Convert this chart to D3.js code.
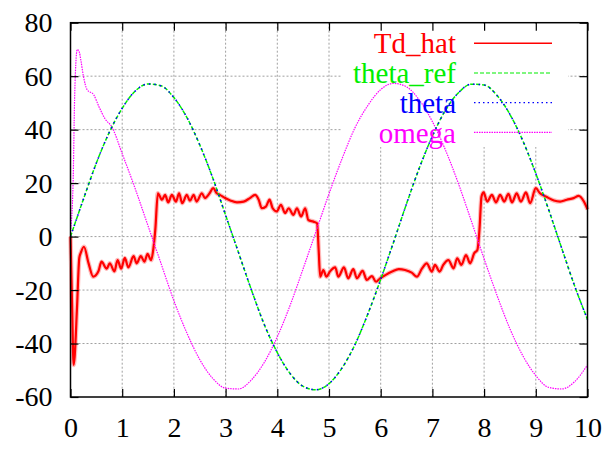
<!DOCTYPE html>
<html>
<head>
<meta charset="utf-8">
<script src="https://cdn.jsdelivr.net/npm/d3@7"></script>
<style>
  body { margin: 0; background: #fff; }
  text { font-family: "Liberation Serif", "Times New Roman", serif; }
</style>
</head>
<body>
<script>
// values
var xTicks = [0, 1, 2, 3, 4, 5, 6, 7, 8, 9, 10];
var yTicks = [-60, -40, -20, 0, 20, 40, 60, 80];

// theta_ref / theta sampled every 0.25 s
var thetaT = d3.range(0, 10.001, 0.25);
var thetaRef = [0, 14, 27.5, 39, 48, 54.4, 57.1, 56.4, 52, 44.6, 34.3, 22, 8, -6, -20, -33,
                -43.4, -51.3, -56, -57.3, -55, -49.2, -40.5, -29, -16, -2, 12.3, 25.8, 37.6,
                47.2, 53.7, 57, 56.7, 52.8, 45.7, 35.8, 23.6, 10, -4.3, -18.4, -31];
var theta = thetaRef.slice();

var omegaT = [0, 0.05, 0.08, 0.11, 0.13, 0.17, 0.2, 0.25, 0.32, 0.45, 0.55, 0.67, 0.8, 1.0,
              1.25, 1.5, 1.75, 2, 2.25, 2.5, 2.75, 3, 3.25, 3.5, 3.75, 4, 4.25, 4.5, 4.75, 5,
              5.25, 5.5, 5.75, 6, 6.25, 6.5, 6.75, 7, 7.25, 7.5, 7.75, 8, 8.25, 8.5, 8.75, 9,
              9.25, 9.5, 9.75, 10];
var omega = [2, 20, 52, 67, 70, 69, 66, 60, 55, 53, 48.6, 44, 41, 31,
             18, 4, -10, -24, -36, -46, -53, -56.7, -57, -53.6, -47, -37.5, -25.6, -12, 2, 16,
             29, 40.6, 49, 55, 57.3, 56, 51, 43, 32.5, 20, 6, -8.3, -22, -34.5, -44.6, -52,
             -56.4, -57, -54.3, -48];

var tdT = [0, 0.03, 0.06, 0.08, 0.125, 0.17, 0.2, 0.26, 0.35, 0.44, 0.54, 0.6, 0.7, 0.76, 0.85,
           0.91, 0.98, 1.05, 1.12, 1.22, 1.28, 1.36, 1.43, 1.49, 1.56, 1.6, 1.64, 1.69, 1.77,
           1.83, 1.89, 1.96, 2.04, 2.1, 2.16, 2.25, 2.31, 2.38, 2.44, 2.54, 2.6, 2.69, 2.76,
           2.83, 2.89, 2.99, 3.09, 3.22, 3.35, 3.47, 3.57, 3.64, 3.7, 3.78, 3.85, 3.91, 3.99,
           4.07, 4.15, 4.22, 4.31, 4.38, 4.46, 4.54, 4.6, 4.7, 4.77, 4.8, 4.83, 4.89, 4.95,
           5.02, 5.12, 5.18, 5.29, 5.37, 5.47, 5.54, 5.65, 5.73, 5.83, 5.91, 5.99, 6.09, 6.22,
           6.35, 6.47, 6.6, 6.7, 6.8, 6.89, 6.99, 7.05, 7.14, 7.21, 7.31, 7.41, 7.48, 7.56,
           7.65, 7.73, 7.81, 7.87, 7.91, 7.95, 7.99, 8.06, 8.15, 8.23, 8.31, 8.39, 8.47, 8.54,
           8.63, 8.71, 8.81, 8.89, 9.0, 9.08, 9.21, 9.35, 9.47, 9.6, 9.73, 9.83, 9.93, 10];
var tdHat = [0, -25, -48, -45, -27, -8, -6, -3.8, -10, -15, -13, -9.4, -12, -10, -13,
             -8.8, -12, -8, -11.5, -7.3, -10, -7.3, -9.4, -6.5, -8.8, -5, 2.5, 16.2, 13.8,
             15.6, 12.8, 15.6, 13.1, 16.2, 12.5, 15.6, 13.4, 15.6, 13.1, 16.2, 14.4, 16.2, 18.1,
             16.2, 15.6, 14.4, 13.5, 12.8, 13.1, 14.4, 15.6, 13.8, 10.6, 11.2, 13.8, 10.6, 9.4,
             11.9, 8.8, 10.6, 8.1, 10.6, 7.5, 10.6, 6.2, 5.6, 5, -5, -15, -12.5, -15,
             -13, -11.5, -15, -11.5, -15.6, -12.2, -15.6, -12.8, -16.2, -14.8, -16.9, -15.6, -14.4, -13.1,
             -12.2, -12.5, -13.5, -15, -11.9, -10, -13.1, -10.6, -13.1, -10.6, -8.8, -11.9, -8.1, -10.6,
             -6.9, -10, -6.2, -5, 2.5, 15, 16.5, 13.1, 15.6, 12.8, 15.6, 13.1, 16, 12.8,
             16.2, 13.1, 16.5, 12.5, 18.1, 16.2, 14.8, 13.5, 13.1, 13.8, 14.4, 15.2, 13.1, 10.2];

var legendNames = ["Td_hat", "theta_ref", "theta", "omega"];
var legendColors = ["#ff0000", "#00ee00", "#0000ff", "#ff00ff"];

var W = 605, H = 449;
var svg = d3.select("body").append("svg")
            .attr("width", W)
            .attr("height", H);

var x = d3.scaleLinear().domain([0, 10]).range([70.5, 587.5]);
var y = d3.scaleLinear().domain([-60, 80]).range([397, 22.7]);

// grid
var grid = svg.append("g")
              .attr("stroke", "#a0a0a0")
              .attr("stroke-dasharray", "2,2")
              .attr("stroke-width", 1);
grid.selectAll(".gx").data(xTicks.slice(1, -1)).enter().append("line")
    .attr("x1", function(d) { return x(d); })
    .attr("x2", function(d) { return x(d); })
    .attr("y1", y(80)).attr("y2", y(-60));
grid.selectAll(".gy").data(yTicks.slice(1, -1)).enter().append("line")
    .attr("x1", x(0)).attr("x2", x(10))
    .attr("y1", function(d) { return y(d); })
    .attr("y2", function(d) { return y(d); });

// key area blanks the grid (gnuplot style)
svg.append("rect")
   .attr("x", 342).attr("y", 24)
   .attr("width", 226).attr("height", 123)
   .attr("fill", "#fff");

function line(xs) {
  return d3.line()
           .x(function(d, i) { return x(xs[i]); })
           .y(function(d) { return y(d); });
}

// Td_hat - noisy, drawn thick with a soft halo
svg.append("path").datum(tdHat)
   .attr("d", line(tdT).curve(d3.curveMonotoneX))
   .attr("fill", "none")
   .attr("stroke", "rgba(255,60,60,0.35)")
   .attr("stroke-width", 4.5);
svg.append("path").datum(tdHat)
   .attr("d", line(tdT).curve(d3.curveMonotoneX))
   .attr("fill", "none")
   .attr("stroke", "#ff0000")
   .attr("stroke-width", 2.2);

svg.append("path").datum(omega)
   .attr("d", line(omegaT).curve(d3.curveMonotoneX))
   .attr("fill", "none")
   .attr("stroke", "#ff00ff")
   .attr("stroke-width", 1.2)
   .attr("stroke-dasharray", "1.5,1");

svg.append("path").datum(thetaRef)
   .attr("d", line(thetaT).curve(d3.curveMonotoneX))
   .attr("fill", "none")
   .attr("stroke", "#00ee00")
   .attr("stroke-width", 1.5)
   .attr("stroke-dasharray", "4,2");

svg.append("path").datum(theta)
   .attr("d", line(thetaT).curve(d3.curveMonotoneX))
   .attr("fill", "none")
   .attr("stroke", "#0000ff")
   .attr("stroke-width", 1.5)
   .attr("stroke-dasharray", "1.5,4");

// axes, ticks inward and mirrored
var fs = 28;
var axLeft = svg.append("g")
                .attr("transform", "translate(" + x(0) + ",0)")
                .call(d3.axisLeft(y).tickValues(yTicks).tickSize(-8).tickPadding(18).tickFormat(String));
var axBottom = svg.append("g")
                  .attr("transform", "translate(0," + y(-60) + ")")
                  .call(d3.axisBottom(x).tickValues(xTicks).tickSize(-8).tickPadding(20).tickFormat(String));
var axTop = svg.append("g")
               .attr("transform", "translate(0," + y(80) + ")")
               .call(d3.axisTop(x).tickValues(xTicks).tickSize(-8).tickFormat(""));
var axRight = svg.append("g")
                 .attr("transform", "translate(" + x(10) + ",0)")
                 .call(d3.axisRight(y).tickValues(yTicks).tickSize(-8).tickFormat(""));

[axLeft, axBottom, axTop, axRight].forEach(function(a) {
  a.select(".domain").remove();
  a.selectAll("line").attr("stroke", "#000").attr("stroke-width", 1.2);
  a.selectAll("text")
   .attr("fill", "#000")
   .style("font-size", fs + "px")
   .style("font-family", "'Liberation Serif', serif");
});

svg.append("rect")
   .attr("x", x(0)).attr("y", y(80))
   .attr("width", x(10) - x(0)).attr("height", y(-60) - y(80))
   .attr("fill", "none")
   .attr("stroke", "#000")
   .attr("stroke-width", 1.5);

// legend
var dashes = [null, "4,2", "1.5,3", "1.5,1"];
var key = svg.selectAll(".key").data(legendNames).enter().append("g")
             .attr("transform", function(d, i) { return "translate(0," + (43.3 + i * 29.7) + ")"; });
key.append("text")
   .attr("x", 456)
   .attr("dy", "0.35em")
   .attr("text-anchor", "end")
   .style("font-size", "29px")
   .attr("fill", function(d, i) { return legendColors[i]; })
   .text(function(d) { return d; });
key.append("line")
   .attr("x1", 474).attr("x2", 552)
   .attr("stroke", function(d, i) { return legendColors[i]; })
   .attr("stroke-width", function(d, i) { return i == 0 ? 1.5 : 1.2; })
   .attr("stroke-dasharray", function(d, i) { return dashes[i]; });
</script>
</body>
</html>
